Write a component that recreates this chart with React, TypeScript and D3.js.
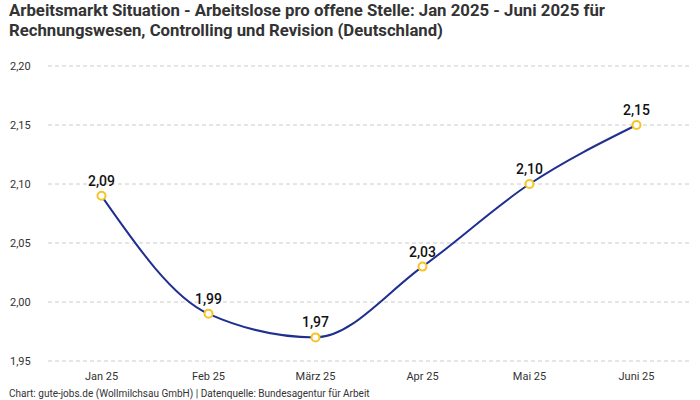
import React, { useEffect, useRef } from 'react'
import * as d3 from 'd3'

const months = ['Jan 25', 'Feb 25', 'März 25', 'Apr 25', 'Mai 25', 'Juni 25']
const values = [2.09, 1.99, 1.97, 2.03, 2.1, 2.15]
const yTicks = [1.95, 2.0, 2.05, 2.1, 2.15, 2.2]

const W = 700
const H = 400
const font = 'Roboto, "Noto Sans", sans-serif'

const fmt = (v: number) => v.toFixed(2).replace('.', ',')

export default function App() {
  const svgRef = useRef<SVGSVGElement>(null)

  useEffect(() => {
    if (!svgRef.current) return
    const svg = d3.select(svgRef.current)
    svg.selectAll('*').remove()

    const x = d3.scaleBand().domain(months).range([48, 690]).padding(0)
    const y = d3.scaleLinear().domain([1.95, 2.2]).range([361, 66])
    const cx = (m: string) => (x(m) || 0) + x.bandwidth() / 2

    svg.append('rect').attr('width', W).attr('height', H).attr('fill', '#fff')

    const title = svg
      .append('text')
      .attr('font-family', font)
      .attr('font-size', 16)
      .attr('font-weight', 700)
      .attr('fill', '#333')
    title
      .append('tspan')
      .attr('x', 9)
      .attr('y', 16)
      .attr('textLength', 596)
      .attr('lengthAdjust', 'spacingAndGlyphs')
      .text('Arbeitsmarkt Situation - Arbeitslose pro offene Stelle: Jan 2025 - Juni 2025 für')
    title
      .append('tspan')
      .attr('x', 9)
      .attr('y', 36)
      .attr('textLength', 434)
      .attr('lengthAdjust', 'spacingAndGlyphs')
      .text('Rechnungswesen, Controlling und Revision (Deutschland)')

    // grid
    svg
      .append('g')
      .selectAll('line')
      .data(yTicks)
      .join('line')
      .attr('x1', 48)
      .attr('x2', 690)
      .attr('y1', (d) => y(d))
      .attr('y2', (d) => y(d))
      .attr('stroke', '#ccc')
      .attr('stroke-dasharray', '4,3')

    svg
      .append('g')
      .selectAll('text')
      .data(yTicks)
      .join('text')
      .attr('x', 10)
      .attr('y', (d) => y(d) + 4)
      .attr('font-family', font)
      .attr('font-size', 11)
      .attr('fill', '#333')
      .text((d) => fmt(d))

    svg
      .append('g')
      .selectAll('text')
      .data(months)
      .join('text')
      .attr('x', (d) => cx(d))
      .attr('y', 380)
      .attr('text-anchor', 'middle')
      .attr('font-family', font)
      .attr('font-size', 11)
      .attr('fill', '#333')
      .text((d) => d)

    const line = d3
      .line<number>()
      .x((_, i) => cx(months[i]))
      .y((d) => y(d))
      .curve(d3.curveMonotoneX)

    svg
      .append('path')
      .datum(values)
      .attr('d', line)
      .attr('fill', 'none')
      .attr('stroke', '#1f2f8f')
      .attr('stroke-width', 2)

    svg
      .append('g')
      .selectAll('circle')
      .data(values)
      .join('circle')
      .attr('cx', (_, i) => cx(months[i]))
      .attr('cy', (d) => y(d))
      .attr('r', 4)
      .attr('fill', '#fff')
      .attr('stroke', '#f7c325')
      .attr('stroke-width', 2)

    svg
      .append('g')
      .selectAll('text')
      .data(values)
      .join('text')
      .attr('x', (_, i) => cx(months[i]))
      .attr('y', (d) => y(d) - 10)
      .attr('text-anchor', 'middle')
      .attr('font-family', font)
      .attr('font-size', 14)
      .attr('font-weight', 500)
      .attr('fill', '#111')
      .text((d) => fmt(d))

    svg
      .append('text')
      .attr('x', 9)
      .attr('y', 397)
      .attr('font-family', font)
      .attr('font-size', 10)
      .attr('fill', '#333')
      .text('Chart: gute-jobs.de (Wollmilchsau GmbH) | Datenquelle: Bundesagentur für Arbeit')
  }, [])

  return (
    <svg
      ref={svgRef}
      width={W}
      height={H}
      style={{ position: 'absolute', left: 0, top: 0, display: 'block' }}
    />
  )
}
